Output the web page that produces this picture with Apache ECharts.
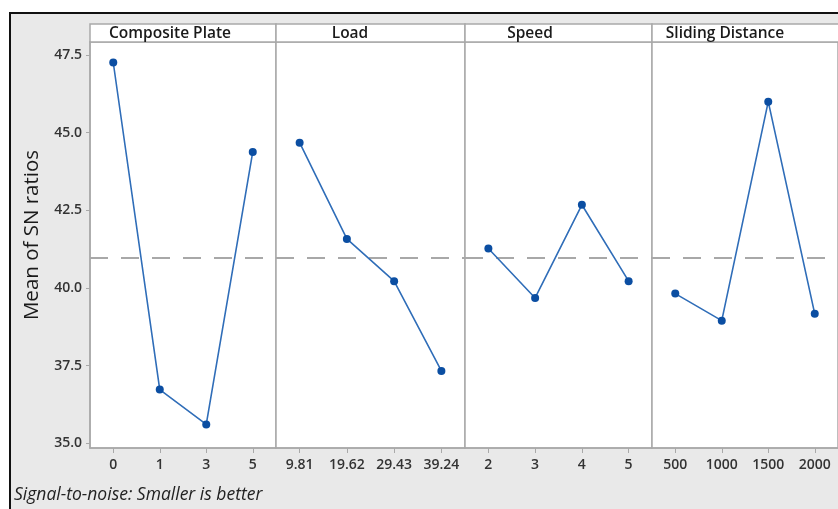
<!DOCTYPE html>
<html>
<head>
<meta charset="utf-8">
<script src="https://cdn.jsdelivr.net/npm/echarts@6/dist/echarts.min.js"></script>
<style>
  html, body { margin: 0; padding: 0; background: #ffffff; }
  #wrap { position: relative; width: 838px; height: 509px; overflow: hidden; }
  #frame { position: absolute; left: 9px; top: 12px; width: 840px; height: 510px;
           background: #e9e9e9; border-left: 2px solid #111; border-top: 2px solid #111; box-sizing: border-box; }
  #chart { position: absolute; left: 0; top: 0; width: 838px; height: 509px; }
</style>
</head>
<body>
<div id="wrap">
  <div id="frame"></div>
  <div id="chart"></div>
</div>
<script>
// ---- data ----
const factors = ['Composite Plate', 'Load', 'Speed', 'Sliding Distance'];
const compositePlateLevels = ['0', '1', '3', '5'];
const loadLevels = ['9.81', '19.62', '29.43', '39.24'];
const speedLevels = ['2', '3', '4', '5'];
const slidingDistanceLevels = ['500', '1000', '1500', '2000'];
const compositePlate = [47.26, 36.73, 35.61, 44.38];
const load = [44.68, 41.58, 40.22, 37.33];
const speed = [41.27, 39.68, 42.68, 40.22];
const slidingDistance = [39.82, 38.95, 46.00, 39.17];
const overallMean = 40.97;
const yTicks = [35.0, 37.5, 40.0, 42.5, 45.0, 47.5];
const yTitle = 'Mean of SN ratios';
const footnote = 'Signal-to-noise: Smaller is better';

// ---- layout ----
const levelsList = [compositePlateLevels, loadLevels, speedLevels, slidingDistanceLevels];
const valuesList = [compositePlate, load, speed, slidingDistance];
const panelEdges = [90, 276, 465, 652, 839];
const headerTextX = [170, 350, 530, 725];
const plotTop = 42, plotBottom = 448, headerTop = 24;
const W = 838, H = 509;
const gridColor = '#a9a9a9';
const labelFont = { color: '#333333', fontSize: 14, fontWeight: 600, fontFamily: 'Open Sans' };

const grids = [], xAxes = [], yAxes = [], series = [], graphics = [];
factors.forEach((f, i) => {
  const left = panelEdges[i], width = panelEdges[i + 1] - panelEdges[i];
  grids.push({
    left: left, width: width, top: plotTop, height: plotBottom - plotTop,
    show: true, backgroundColor: '#ffffff', borderColor: gridColor, borderWidth: 1.5
  });
  xAxes.push({
    type: 'category', gridIndex: i, data: levelsList[i], boundaryGap: true,
    axisLine: { show: true, lineStyle: { color: gridColor, width: 1.5 } },
    axisTick: { show: true, alignWithLabel: true, length: 5, lineStyle: { color: gridColor } },
    axisLabel: Object.assign({ margin: 10 }, labelFont),
    splitLine: { show: false }
  });
  yAxes.push({
    type: 'value', gridIndex: i, min: 34.85, max: 47.92,
    axisLine: { show: i === 0, lineStyle: { color: gridColor, width: 1.5 } },
    axisTick: { show: i === 0, length: 4, customValues: yTicks, lineStyle: { color: gridColor } },
    axisLabel: Object.assign({ show: i === 0, margin: 8, customValues: yTicks,
      formatter: v => v.toFixed(1) }, labelFont),
    splitLine: { show: false }
  });
  series.push({
    type: 'line', xAxisIndex: i, yAxisIndex: i, data: valuesList[i],
    symbol: 'circle', symbolSize: 8,
    lineStyle: { color: '#2f6db8', width: 1.6 },
    itemStyle: { color: '#0b4ea2' },
    markLine: {
      silent: true, symbol: 'none', label: { show: false },
      lineStyle: { color: '#a8a8a8', type: [18, 13], width: 2 },
      data: [{ yAxis: overallMean }]
    },
    z: 5
  });
  graphics.push({
    type: 'rect', shape: { x: left, y: headerTop, width: width, height: plotTop - headerTop },
    style: { fill: '#ffffff', stroke: gridColor, lineWidth: 1.5 }
  });
  graphics.push({
    type: 'text', x: headerTextX[i], y: (headerTop + plotTop) / 2 + 1,
    style: { text: f, textAlign: 'center', textVerticalAlign: 'middle',
      fill: '#1a1a1a', font: '600 15.5px "Open Sans"' }
  });
});
graphics.push({
  type: 'text', x: 32, y: 235, rotation: Math.PI / 2,
  style: { text: yTitle, textAlign: 'center', textVerticalAlign: 'middle',
    fill: '#1a1a1a', font: '500 20.5px "Open Sans"' }
});
graphics.push({
  type: 'text', x: 14, y: 495,
  style: { text: footnote, textAlign: 'left', textVerticalAlign: 'middle',
    fill: '#222', font: 'italic 17.5px "Open Sans"' }
});

const chart = echarts.init(document.getElementById('chart'), null, { renderer: 'canvas', width: W, height: H });
chart.setOption({
  animation: false,
  backgroundColor: 'transparent',
  grid: grids, xAxis: xAxes, yAxis: yAxes, series: series,
  graphic: { elements: graphics }
});
</script>
</body>
</html>
